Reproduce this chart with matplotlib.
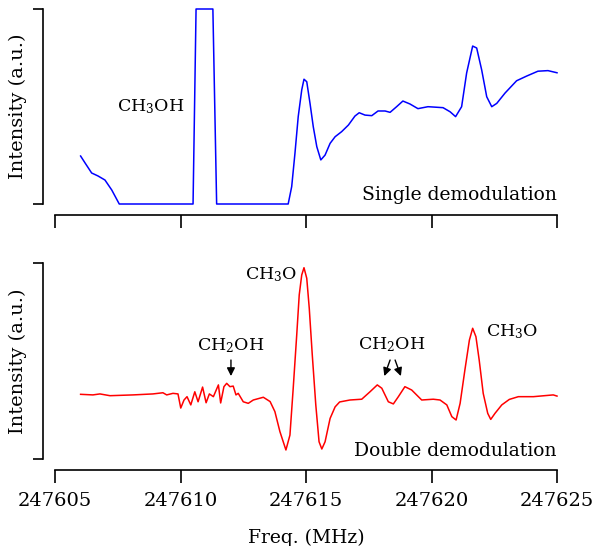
import numpy as np
import matplotlib.pyplot as plt

plt.rcParams['font.family'] = 'DejaVu Serif'
plt.rcParams['mathtext.fontset'] = 'dejavuserif'

# single demodulation (blue)
f_single = [247606.02, 247606.20, 247606.46, 247606.71, 247606.99, 247607.26, 247607.56,
            247610.50, 247610.62, 247611.29, 247611.44, 247614.29, 247614.43, 247614.56,
            247614.69, 247614.83, 247614.92, 247615.03, 247615.16, 247615.29, 247615.43,
            247615.59, 247615.76, 247615.96, 247616.16, 247616.42, 247616.69, 247616.95,
            247617.12, 247617.35, 247617.62, 247617.87, 247618.15,
            247618.35, 247618.61, 247618.86, 247619.14, 247619.46, 247619.86, 247620.46,
            247620.74, 247620.96, 247621.20, 247621.40, 247621.64, 247621.80, 247622.00,
            247622.20, 247622.40, 247622.60, 247622.93, 247623.39, 247623.79, 247624.24,
            247624.64, 247625.00]
i_single = [0.246, 0.210, 0.159, 0.144, 0.123, 0.072, 0.0,
            0.0, 1.0, 1.0, 0.0, 0.0, 0.089, 0.260,
            0.448, 0.585, 0.640, 0.627, 0.516, 0.396, 0.294,
            0.226, 0.251, 0.311, 0.345, 0.371, 0.405, 0.451,
            0.468, 0.456, 0.453, 0.477, 0.477,
            0.470, 0.499, 0.528, 0.513, 0.489, 0.499, 0.494,
            0.473, 0.448, 0.499, 0.672, 0.810, 0.800, 0.687,
            0.550, 0.499, 0.516, 0.569, 0.632, 0.656, 0.681,
            0.684, 0.673]

# double demodulation (red)
f_double = [247606.02, 247606.51, 247606.79, 247607.19, 247608.11, 247608.90, 247609.30,
            247609.45, 247609.70, 247609.90, 247610.01, 247610.14, 247610.26, 247610.41,
            247610.57, 247610.70, 247610.88, 247611.02, 247611.15, 247611.31, 247611.51,
            247611.60, 247611.73, 247611.84, 247611.97, 247612.10, 247612.21, 247612.30,
            247612.50, 247612.70, 247612.90, 247613.30, 247613.57, 247613.76, 247613.96,
            247614.20, 247614.36, 247614.49, 247614.63, 247614.73, 247614.83, 247614.92,
            247615.03, 247615.13, 247615.25, 247615.39, 247615.52, 247615.63, 247615.76,
            247615.96, 247616.16, 247616.34, 247616.75, 247617.22, 247617.55,
            247617.84, 247618.02, 247618.28, 247618.48, 247618.68, 247618.94, 247619.21,
            247619.61, 247620.07, 247620.34, 247620.61, 247620.81, 247620.98, 247621.14,
            247621.33, 247621.51, 247621.64, 247621.77, 247621.90, 247622.06, 247622.24,
            247622.36, 247622.53, 247622.80, 247623.10,
            247623.46, 247624.06, 247624.85, 247625.00]
i_double = [0.330, 0.327, 0.332, 0.323, 0.327, 0.332, 0.338,
            0.327, 0.335, 0.332, 0.260, 0.301, 0.318, 0.276,
            0.343, 0.292, 0.367, 0.287, 0.332, 0.318, 0.378,
            0.286, 0.369, 0.386, 0.369, 0.372, 0.327, 0.335,
            0.292, 0.284, 0.301, 0.315, 0.293, 0.242, 0.140,
            0.046, 0.122, 0.360, 0.632, 0.837, 0.939, 0.976,
            0.922, 0.769, 0.531, 0.276, 0.088, 0.051, 0.088,
            0.207, 0.266, 0.291, 0.301, 0.305, 0.343,
            0.378, 0.361, 0.292, 0.281, 0.318, 0.369, 0.352,
            0.301, 0.305, 0.301, 0.276, 0.216, 0.199, 0.284,
            0.454, 0.607, 0.667, 0.624, 0.505, 0.335, 0.233,
            0.202, 0.233, 0.276, 0.304,
            0.318, 0.318, 0.327, 0.321]

xticks = [247605, 247610, 247615, 247620, 247625]

fig = plt.figure(figsize=(5.97, 5.46), dpi=100)
ax1 = fig.add_axes([55/597, 1-204/546, 502/597, 195/546])
ax2 = fig.add_axes([55/597, 1-459/546, 502/597, 196/546])

for ax in (ax1, ax2):
    ax.set_xlim(247605, 247625)
    ax.set_ylim(0, 1)
    for s in ('top', 'right'):
        ax.spines[s].set_visible(False)
    ax.spines['left'].set_position(('outward', 8.6))
    ax.spines['bottom'].set_position(('outward', 8))
    ax.spines['left'].set_bounds(0, 1)
    ax.spines['bottom'].set_bounds(247605, 247625)
    ax.spines['left'].set_linewidth(1.2)
    ax.spines['bottom'].set_linewidth(1.2)
    ax.set_yticks([0, 1])
    ax.set_yticklabels([])
    ax.set_xticks(xticks)
    ax.tick_params(axis='y', length=7, width=1.2)
    ax.tick_params(axis='x', length=9.5, width=1.2, labelsize=14, pad=6)
    ax.set_ylabel('Intensity (a.u.)', fontsize=14)
    ax.yaxis.set_label_coords(-0.055, 0.5)

ax1.set_xticklabels([])
ax2.set_xticklabels([str(t) for t in xticks])

ax1.plot(f_single, i_single, color='#0000ff', lw=1.1, clip_on=False)
ax2.plot(f_double, i_double, color='#ff0000', lw=1.1, clip_on=False)

ax1.text(247608.82, 0.497, r'CH$_3$OH', fontsize=12.5, ha='center', va='center')
ax1.text(247625, 0.02, 'Single demodulation', fontsize=13.5, ha='right', va='baseline')

ax2.text(247613.61, 0.939, r'CH$_3$O', fontsize=12.5, ha='center', va='center')
ax2.text(247612.01, 0.577, r'CH$_2$OH', fontsize=12.5, ha='center', va='center')
ax2.text(247618.43, 0.582, r'CH$_2$OH', fontsize=12.5, ha='center', va='center')
ax2.text(247623.23, 0.648, r'CH$_3$O', fontsize=12.5, ha='center', va='center')
ax2.text(247625, 0.015, 'Double demodulation', fontsize=13.5, ha='right', va='baseline')

arrow = dict(arrowstyle='-|>', color='black', lw=1.0, mutation_scale=12,
             shrinkA=0, shrinkB=0)
ax2.annotate('', xy=(247612.01, 0.423), xytext=(247612.01, 0.505), arrowprops=arrow)
ax2.annotate('', xy=(247618.12, 0.423), xytext=(247618.35, 0.505), arrowprops=arrow)
ax2.annotate('', xy=(247618.78, 0.423), xytext=(247618.55, 0.505), arrowprops=arrow)

fig.text(306/597, 1-538/546, 'Freq. (MHz)', fontsize=13.5, ha='center', va='center')

fig.savefig('out.png', dpi=100)
